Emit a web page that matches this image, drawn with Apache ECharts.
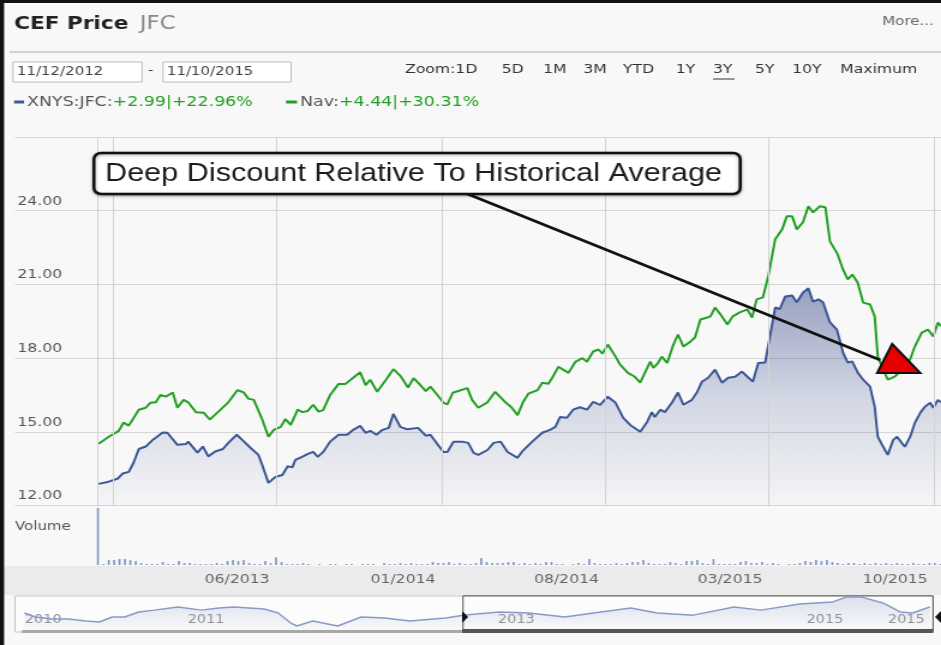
<!DOCTYPE html>
<html>
<head>
    <meta charset="utf-8">
    <title>CEF Price JFC</title>
    <script src="https://cdn.jsdelivr.net/npm/echarts/dist/echarts.min.js"></script>
    <style>
        html, body { margin: 0; padding: 0; background: #f8f8f8; overflow: hidden; }
        /* the source screenshot is stretched horizontally, so draw narrow and stretch */
        #chart { width: 784px; height: 645px; transform: scaleX(1.2003); transform-origin: 0 0; }
    </style>
</head>
<body>
<div id="chart"></div>
<script>
    // x values are days after 11/12/2012
    var jfcDays = [1, 14, 26, 32, 40, 46, 53, 62, 71, 84,
        90, 103, 114, 117, 129, 136, 143, 152, 162, 169,
        180, 187, 198, 208, 213, 221, 230, 239, 246, 252,
        256, 266, 272, 279, 285, 292, 301, 312, 323, 331,
        340, 347, 353, 361, 369, 377, 383, 392, 401, 415,
        425, 431, 440, 448, 453, 461, 472, 480, 487, 493,
        505, 513, 522, 531, 544, 550, 563, 576, 586, 593,
        599, 608, 616, 625, 634, 642, 651, 661, 671, 681,
        690, 703, 712, 718, 722, 729, 735, 744, 752, 759,
        770, 777, 783, 791, 800, 809, 817, 826, 835, 842,
        849, 856, 865, 878, 884, 891, 900, 906, 914, 921,
        927, 934, 940, 949, 958, 966, 972, 978, 985, 992,
        1001, 1007, 1011, 1018, 1024, 1031, 1036, 1042, 1046, 1053,
        1059, 1066, 1072, 1079, 1083, 1089, 1093];
    var jfcPrice = [12.88, 12.97, 13.10, 13.30, 13.37, 13.73, 14.30, 14.40, 14.67, 14.97,
        14.96, 14.47, 14.50, 14.60, 14.15, 14.40, 14.00, 14.20, 14.30, 14.55,
        14.88, 14.67, 14.34, 14.06, 13.65, 12.92, 13.16, 13.24, 13.60, 13.55,
        13.86, 14.00, 14.10, 14.18, 13.98, 14.18, 14.60, 14.88, 14.88, 15.08,
        15.24, 14.96, 15.04, 14.88, 15.08, 15.16, 15.73, 15.20, 15.10, 15.16,
        14.84, 14.88, 14.50, 14.18, 14.18, 14.60, 14.60, 14.55, 14.14, 14.06,
        14.26, 14.55, 14.60, 14.18, 13.94, 14.20, 14.60, 14.96, 15.08, 15.20,
        15.60, 15.57, 15.90, 16.00, 15.90, 16.22, 16.10, 16.43, 16.18, 15.57,
        15.28, 15.00, 15.40, 15.80, 15.60, 15.90, 15.80, 16.18, 16.60, 16.10,
        16.30, 16.63, 17.04, 17.20, 17.53, 17.00, 17.20, 17.24, 17.45, 17.24,
        17.04, 17.80, 17.82, 20.06, 20.00, 20.51, 20.55, 20.27, 20.67, 20.84,
        20.30, 20.39, 20.27, 19.45, 19.16, 18.22, 17.82, 17.86, 17.41, 17.12,
        16.84, 16.02, 14.80, 14.39, 14.06, 14.67, 14.80, 14.55, 14.39, 14.80,
        15.36, 15.77, 16.02, 16.18, 15.98, 16.30, 16.20];

    var navDays = [1, 14, 27, 33, 40, 53, 62, 68, 75, 81,
        88, 97, 103, 111, 117, 127, 137, 145, 152, 169,
        181, 189, 195, 202, 213, 221, 228, 237, 243, 250,
        259, 265, 272, 279, 286, 292, 301, 312, 321, 331,
        340, 347, 353, 362, 373, 383, 392, 402, 409, 415,
        425, 431, 440, 448, 453, 460, 479, 485, 493, 505,
        515, 529, 536, 544, 551, 558, 570, 576, 584, 589,
        597, 603, 610, 619, 628, 634, 642, 649, 654, 661,
        671, 677, 687, 696, 703, 709, 716, 720, 726, 731,
        738, 746, 752, 759, 768, 774, 781, 790, 794, 800,
        807, 816, 823, 832, 842, 848, 854, 862, 869, 878,
        887, 893, 900, 906, 914, 921, 927, 936, 943, 949,
        959, 966, 972, 978, 985, 992, 1001, 1007, 1011, 1018,
        1024, 1033, 1044, 1053, 1059, 1068, 1076, 1083, 1089, 1093];
    var navPrice = [14.51, 14.80, 15.04, 15.37, 15.25, 15.90, 15.98, 16.18, 16.20, 16.50,
        16.43, 16.60, 15.98, 16.30, 16.20, 15.80, 15.78, 15.50, 15.70, 16.20,
        16.70, 16.60, 16.35, 16.30, 15.50, 14.80, 15.08, 15.20, 15.52, 15.28,
        15.90, 15.80, 15.85, 16.10, 15.82, 15.88, 16.50, 16.95, 16.95, 17.20,
        17.42, 16.90, 17.12, 16.63, 17.10, 17.55, 17.28, 16.80, 17.18, 17.00,
        16.66, 16.84, 16.50, 16.18, 16.12, 16.59, 16.78, 16.30, 15.98, 16.20,
        16.63, 16.18, 16.00, 15.68, 16.20, 16.55, 16.70, 17.00, 16.96, 17.20,
        17.65, 17.53, 17.40, 17.85, 18.00, 17.85, 18.27, 18.35, 18.18, 18.55,
        18.06, 17.73, 17.40, 17.24, 17.00, 17.40, 17.86, 17.60, 17.80, 18.06,
        17.80, 18.55, 18.96, 18.47, 18.67, 18.84, 19.57, 19.65, 19.70, 20.06,
        19.78, 19.37, 19.70, 19.86, 19.98, 19.65, 20.39, 20.47, 21.33, 22.84,
        23.24, 23.77, 23.77, 23.24, 23.53, 24.18, 23.93, 24.18, 24.14, 22.75,
        22.22, 21.60, 21.20, 21.40, 21.07, 20.26, 20.18, 19.70, 18.06, 17.53,
        17.12, 17.25, 17.55, 17.95, 18.47, 19.04, 19.16, 18.88, 19.45, 19.30];

    // weekly volume, first week is the big spike
    var weeklyVolume = [58, 1, 5, 5, 6, 6, 5, 4, 2, 1,
        1, 1, 3, 1, 1, 4, 2, 2, 1, 1,
        1, 1, 2, 1, 4, 5, 4, 5, 2, 1,
        1, 4, 2, 8, 3, 1, 1, 1, 2, 1,
        0, 1, 0, 1, 1, 0, 1, 1, 0, 1,
        1, 1, 0, 2, 1, 1, 2, 1, 2, 1,
        1, 1, 3, 2, 2, 3, 1, 2, 1, 1,
        2, 7, 3, 2, 2, 2, 3, 3, 1, 2,
        1, 2, 1, 3, 3, 1, 1, 0, 1, 2,
        1, 6, 2, 1, 1, 1, 2, 1, 2, 3,
        3, 5, 2, 1, 1, 1, 3, 2, 1, 4,
        4, 5, 2, 1, 6, 1, 1, 1, 1, 3,
        4, 2, 2, 3, 1, 2, 1, 0, 1, 1,
        2, 4, 3, 5, 4, 5, 3, 2, 1, 2,
        2, 1, 2, 1, 2, 1, 2, 1, 2, 1,
        1, 2, 1, 1, 2, 2, 1];

    var gridDays = [19, 231, 446, 658, 870, 1084];
    var gridLabels = ['', '06/2013', '01/2014', '08/2014', '03/2015', '10/2015'];

    // overview strip under the chart (years)
    var overviewYears = [2010.06, 2010.13, 2010.24, 2010.34, 2010.45, 2010.54, 2010.62, 2010.70, 2010.79, 2010.89,
        2011.04, 2011.19, 2011.30, 2011.40, 2011.59, 2011.68, 2011.76, 2011.80, 2011.90, 2012.06,
        2012.21, 2012.36, 2012.52, 2012.75, 2012.86, 2013.09, 2013.28, 2013.51, 2013.74, 2013.93,
        2014.10, 2014.33, 2014.59, 2014.76, 2015.01, 2015.22, 2015.31, 2015.40, 2015.54, 2015.65,
        2015.73, 2015.84];
    var overviewPrice = [14.8, 13.3, 12.5, 12.5, 11.8, 11.4, 13.3, 13.3, 15.2, 15.9,
        17.1, 15.9, 16.7, 17.1, 16.3, 14.8, 11.0, 9.9, 11.8, 9.9,
        13.3, 12.9, 11.8, 12.9, 14.0, 15.2, 14.8, 13.3, 15.2, 16.7,
        14.8, 14.0, 17.1, 15.9, 18.2, 19.0, 20.9, 20.9, 18.6, 15.2,
        14.8, 17.1];
    var overviewLabels = ['2010', '2011', '2013', '2015', '2015'];
    var overviewLabelYears = [2010.18, 2011.22, 2013.2, 2015.17, 2015.69];
    var windowStart = 2012.86, windowEnd = 2015.86;

    var dayMin = -107.5, dayMax = 1093;

    var myChart = echarts.init(document.getElementById('chart'));

    function pairs(xs, ys) {
        return xs.map(function (x, i) { return [x, ys[i]]; });
    }

    var font = 'DejaVu Sans';
    var green = '#22a022';
    var blue = '#3d5696';
    var clear = 'rgba(0,0,0,0)';

    var zoomItems = [['Zoom:1D', 337.5], ['5D', 418], ['1M', 452.5], ['3M', 486], ['YTD', 519],
        ['1Y', 563], ['3Y', 594], ['5Y', 629], ['10Y', 660], ['Maximum', 700]];

    var elements = [
        {type: 'rect', shape: {x: 0, y: 0, width: 3.4, height: 645}, style: {fill: '#111'}, z: 50},
        {type: 'rect', shape: {x: 0, y: 0, width: 784, height: 3}, style: {fill: '#111'}, z: 50},
        {type: 'text', x: 11.7, y: 24, style: {text: 'CEF Price', font: 'bold 18px ' + font, fill: '#222', textVerticalAlign: 'middle'}},
        {type: 'text', x: 116.5, y: 24, style: {text: 'JFC', font: '19px ' + font, fill: '#888', textVerticalAlign: 'middle'}},
        {type: 'text', x: 735, y: 22, style: {text: 'More...', font: '12.5px ' + font, fill: '#666', textVerticalAlign: 'middle'}},
        {type: 'line', shape: {x1: 8, y1: 52, x2: 784, y2: 52}, style: {stroke: '#d2d2d2', lineWidth: 2}},
        {type: 'rect', shape: {x: 10.8, y: 62, width: 107.5, height: 20}, style: {fill: '#fff', stroke: '#bbb', lineWidth: 1}},
        {type: 'text', x: 14, y: 72, style: {text: '11/12/2012', font: '12.5px ' + font, fill: '#444', textVerticalAlign: 'middle'}},
        {type: 'text', x: 123.3, y: 71, style: {text: '-', font: '12.5px ' + font, fill: '#444', textVerticalAlign: 'middle'}},
        {type: 'rect', shape: {x: 135.8, y: 62, width: 106.7, height: 20}, style: {fill: '#fff', stroke: '#bbb', lineWidth: 1}},
        {type: 'text', x: 139, y: 72, style: {text: '11/10/2015', font: '12.5px ' + font, fill: '#444', textVerticalAlign: 'middle'}},
        {type: 'line', shape: {x1: 594, y1: 79, x2: 612, y2: 79}, style: {stroke: '#333', lineWidth: 1}},
        {type: 'rect', shape: {x: 11.7, y: 100.5, width: 8.3, height: 3}, style: {fill: blue}},
        {type: 'text', x: 22.5, y: 102, style: {
            text: '{a|XNYS:JFC:}{b|+2.99|+22.96%}', textVerticalAlign: 'middle',
            rich: {a: {fill: '#555', font: '14.5px ' + font}, b: {fill: green, font: '14.5px ' + font}}
        }},
        {type: 'rect', shape: {x: 238.3, y: 100.5, width: 9.2, height: 3}, style: {fill: green}},
        {type: 'text', x: 250, y: 102, style: {
            text: '{a|Nav:}{b|+4.44|+30.31%}', textVerticalAlign: 'middle',
            rich: {a: {fill: '#555', font: '14.5px ' + font}, b: {fill: green, font: '14.5px ' + font}}
        }},
        {type: 'text', x: 12.5, y: 527, style: {text: 'Volume', font: '12.5px ' + font, fill: '#555', textVerticalAlign: 'middle'}},
        {type: 'rect', shape: {x: 3, y: 566, width: 781, height: 29}, style: {fill: '#ebebeb'}},
        {type: 'rect', shape: {x: 12.5, y: 596, width: 765, height: 36}, style: {fill: '#fcfcfc', stroke: '#c4c4c4', lineWidth: 1}},
        {type: 'rect', shape: {x: 18.3, y: 630, width: 366.7, height: 3}, style: {fill: '#a8a8a8'}, z: 10},
        {type: 'rect', shape: {x: 385, y: 629, width: 392.5, height: 4}, style: {fill: '#555'}, z: 10},
        {type: 'polygon', shape: {points: [[385, 611], [390, 617], [385, 623]]}, style: {fill: '#111'}, z: 10},
        {type: 'polygon', shape: {points: [[784, 611], [779, 617], [784, 623]]}, style: {fill: '#111'}, z: 10},
        // annotation
        {type: 'line', shape: {x1: 387.5, y1: 193, x2: 733.3, y2: 360}, style: {stroke: '#111', lineWidth: 2.5}, z: 100},
        {type: 'rect', shape: {x: 78.3, y: 153, width: 538.4, height: 41, r: 6},
            style: {fill: '#fff', stroke: '#111', lineWidth: 2.5, shadowBlur: 3, shadowColor: 'rgba(0,0,0,0.35)', shadowOffsetY: 1}, z: 100},
        {type: 'text', x: 87.5, y: 174, style: {text: 'Deep Discount Relative To Historical Average', font: '25.5px "Liberation Sans", Arial', fill: '#1c1c1c', textVerticalAlign: 'middle'}, z: 101},
        {type: 'polygon', shape: {points: [[730.8, 373], [743.3, 344], [766.7, 373]]}, style: {fill: '#e80000', stroke: '#111', lineWidth: 2}, z: 101}
    ];
    zoomItems.forEach(function (it) {
        elements.push({type: 'text', x: it[1], y: 70, style: {text: it[0], font: '13px ' + font, fill: '#333', textVerticalAlign: 'middle'}});
    });

    var option = {
        backgroundColor: '#f8f8f8',
        animation: false,
        textStyle: {fontFamily: font},
        grid: [
            {left: 12.5, right: 0, top: 137, height: 368.5},
            {left: 12.5, right: 0, top: 508, height: 57},
            {left: 12.5, right: 0, top: 566, height: 28},
            {left: 12.5, right: 6.7, top: 594, height: 37}
        ],
        xAxis: [
            {gridIndex: 0, type: 'value', min: dayMin, max: dayMax, show: false},
            {gridIndex: 1, type: 'value', min: dayMin, max: dayMax, show: false},
            {gridIndex: 2, type: 'value', min: dayMin, max: dayMax, show: false},
            {gridIndex: 3, type: 'value', min: 2010.0, max: windowEnd, show: false}
        ],
        yAxis: [
            {
                gridIndex: 0, type: 'value', min: 12, max: 27, interval: 3,
                axisLine: {show: false}, axisTick: {show: false},
                axisLabel: {
                    inside: true, margin: 2, verticalAlign: 'bottom', padding: [0, 0, 3, 0],
                    color: '#555', fontSize: 13, fontFamily: font,
                    formatter: function (v) { return v === 27 ? '' : v.toFixed(2); }
                },
                splitLine: {lineStyle: {color: '#d6d6d6', width: 1}}
            },
            {gridIndex: 1, type: 'value', min: 0, max: 58, show: false},
            {gridIndex: 2, type: 'value', min: 0, max: 1, show: false},
            {gridIndex: 3, type: 'value', min: 8, max: 22, show: false}
        ],
        series: [
            {
                type: 'line', xAxisIndex: 0, yAxisIndex: 0, data: [], z: 1,
                markLine: {
                    silent: true, symbol: ['none', 'none'], label: {show: false},
                    lineStyle: {color: '#d3d3d3', type: 'solid', width: 1},
                    data: [0].concat(gridDays).map(function (d) { return {xAxis: d}; })
                }
            },
            {
                name: 'XNYS:JFC', type: 'line', xAxisIndex: 0, yAxisIndex: 0, z: 3,
                data: pairs(jfcDays, jfcPrice), showSymbol: false,
                lineStyle: {color: blue, width: 2}, itemStyle: {color: blue},
                areaStyle: {
                    color: new echarts.graphic.LinearGradient(0, 0, 0, 1, [
                        {offset: 0, color: 'rgba(55,75,140,0.72)'},
                        {offset: 0.5, color: 'rgba(55,75,140,0.28)'},
                        {offset: 1, color: 'rgba(55,75,140,0.02)'}
                    ])
                }
            },
            {
                name: 'Nav', type: 'line', xAxisIndex: 0, yAxisIndex: 0, z: 4,
                data: pairs(navDays, navPrice), showSymbol: false,
                lineStyle: {color: green, width: 2}, itemStyle: {color: green}
            },
            {
                name: 'Volume', type: 'bar', xAxisIndex: 1, yAxisIndex: 1,
                data: weeklyVolume.map(function (v, i) { return [i * 7, v]; }),
                barWidth: 1.6, itemStyle: {color: '#7f90c2'}
            },
            {
                type: 'scatter', xAxisIndex: 2, yAxisIndex: 2, symbolSize: 1, itemStyle: {color: clear},
                data: gridDays.map(function (d, i) { return {value: [d, 0.5], name: gridLabels[i]}; }),
                label: {show: true, position: 'left', distance: 5, formatter: '{b}', color: '#444', fontSize: 13, fontFamily: font}
            },
            {
                type: 'scatter', xAxisIndex: 3, yAxisIndex: 3, symbolSize: 1, itemStyle: {color: clear}, z: 2,
                data: overviewLabelYears.map(function (y, i) { return {value: [y, 12.2], name: overviewLabels[i]}; }),
                label: {show: true, position: 'inside', formatter: '{b}', color: '#777', fontSize: 12, fontFamily: font}
            },
            {
                type: 'line', xAxisIndex: 3, yAxisIndex: 3, z: 4,
                data: pairs(overviewYears, overviewPrice), showSymbol: false,
                lineStyle: {color: '#8a9ac8', width: 1.5},
                areaStyle: {
                    color: new echarts.graphic.LinearGradient(0, 0, 0, 1, [
                        {offset: 0, color: 'rgba(120,138,190,0.35)'},
                        {offset: 1, color: 'rgba(120,138,190,0.03)'}
                    ])
                },
                markArea: {
                    silent: true,
                    itemStyle: {color: clear, borderColor: '#555', borderWidth: 1},
                    data: [[{xAxis: windowStart, yAxis: 8}, {xAxis: windowEnd, yAxis: 21.3}]]
                }
            }
        ],
        graphic: {elements: elements}
    };
    myChart.setOption(option);
</script>
</body>
</html>
